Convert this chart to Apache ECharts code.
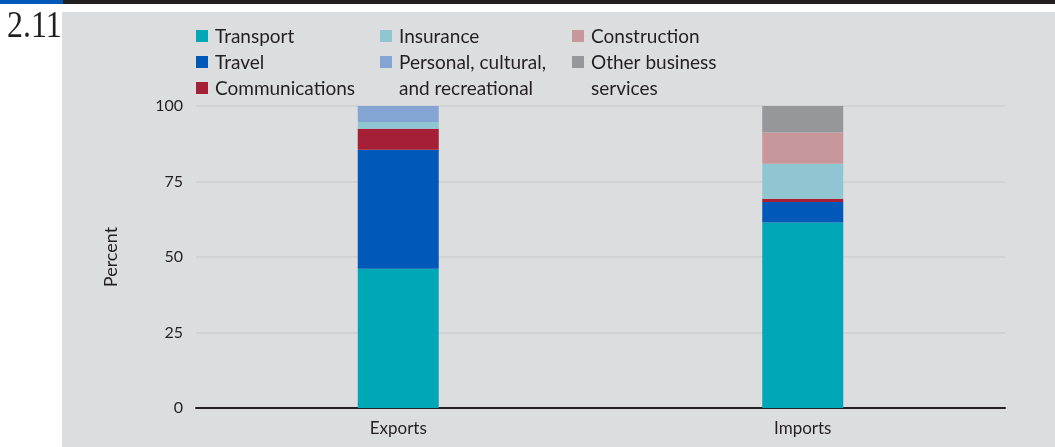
<!DOCTYPE html>
<html>
<head>
<meta charset="utf-8">
<script src="https://cdn.jsdelivr.net/npm/echarts@6/dist/echarts.min.js"></script>
<style>
  html, body { margin: 0; padding: 0; background: #ffffff; }
  #chart { width: 1055px; height: 447px; }
</style>
</head>
<body>
<div id="chart"></div>
<script>
// Composition of services trade, percent of total
const categories = ['Exports', 'Imports'];
const seriesNames = [
  'Transport', 'Travel', 'Communications', 'Insurance',
  'Personal, cultural, and recreational', 'Construction', 'Other business services'
];
const legendLabels = [
  'Transport', 'Travel', 'Communications', 'Insurance',
  'Personal, cultural,\nand recreational', 'Construction', 'Other business\nservices'
];
const transport = [46.1, 61.4];
const travel = [39.4, 6.8];
const communications = [7.0, 1.1];
const insurance = [2.2, 11.6];
const personal = [5.3, 0];
const construction = [0, 10.3];
const otherBusiness = [0, 8.8];
const yTicks = [0, 25, 50, 75, 100];

const values = [transport, travel, communications, insurance, personal, construction, otherBusiness];
const colors = ['#00a7b7', '#0058b8', '#a51f37', '#8fc6d1', '#84a4d4', '#c8979b', '#95979b'];

const TEXT = '#231f20';
const FONT = 'Lato, "Open Sans", sans-serif';

// legend laid out in three columns
const legendCols = [[0, 1, 2], [3, 4], [5, 6]];
const colX = [196, 380, 572];
const rowY = [36, 62, 88];
const legendGraphics = [];
legendCols.forEach((col, ci) => {
  let row = 0;
  col.forEach(idx => {
    const y = rowY[row];
    legendGraphics.push({
      type: 'rect', shape: { x: colX[ci], y: y - 6, width: 12, height: 12 },
      style: { fill: colors[idx] }, silent: true
    });
    legendGraphics.push({
      type: 'text', x: colX[ci] + 19, y: y - 12,
      style: { text: legendLabels[idx], fill: TEXT, font: '19px ' + FONT, lineHeight: 26, verticalAlign: 'top' },
      silent: true
    });
    row += legendLabels[idx].split('\n').length;
  });
});

const chart = echarts.init(document.getElementById('chart'), null, { renderer: 'canvas' });
chart.setOption({
  animation: false,
  backgroundColor: '#ffffff',
  graphic: [
    { type: 'rect', z: -10, shape: { x: 62, y: 12, width: 993, height: 435 }, style: { fill: '#dcdddf' }, silent: true },
    { type: 'rect', z: -10, shape: { x: 0, y: 0, width: 1055, height: 4 }, style: { fill: '#231f20' }, silent: true },
    { type: 'rect', z: -9, shape: { x: 0, y: 0, width: 63, height: 4 }, style: { fill: '#0058b8' }, silent: true },
    { type: 'text', x: 7, y: 8, scaleX: 0.84,
      style: { text: '2.11', fill: '#231f20', font: '38px "Liberation Serif", "DejaVu Serif", serif' }, silent: true },
    ...legendGraphics
  ],
  grid: { left: 196, right: 50, top: 106, bottom: 39 },
  xAxis: {
    type: 'category',
    data: categories,
    axisLine: { lineStyle: { color: TEXT, width: 2 } },
    axisTick: { show: false },
    axisLabel: { color: TEXT, fontSize: 17, fontFamily: FONT, margin: 12 }
  },
  yAxis: {
    type: 'value',
    min: yTicks[0],
    max: yTicks[yTicks.length - 1],
    interval: 25,
    name: 'Percent',
    nameLocation: 'middle',
    nameRotate: 90,
    nameGap: 76,
    nameTextStyle: { color: TEXT, fontSize: 18, fontFamily: FONT },
    axisLine: { show: false },
    axisTick: { show: false },
    axisLabel: { color: TEXT, fontSize: 16, fontFamily: FONT, margin: 13 },
    splitLine: { lineStyle: { color: '#cdced0', width: 1.5 } }
  },
  series: seriesNames.map((name, i) => ({
    name,
    type: 'bar',
    stack: 'total',
    barWidth: 81,
    itemStyle: { color: colors[i] },
    data: values[i]
  }))
});
</script>
</body>
</html>
